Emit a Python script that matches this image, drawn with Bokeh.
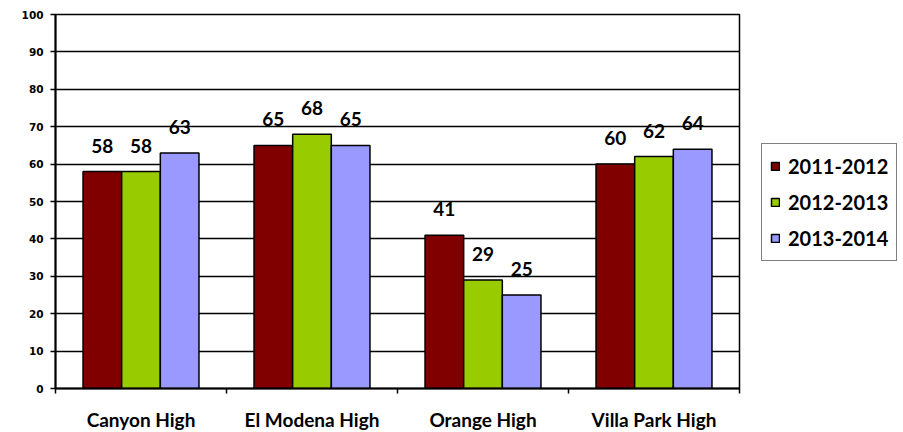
from bokeh.plotting import figure
from bokeh.models import Range1d, FixedTicker, Legend, LegendItem, ColumnDataSource
from bokeh.transform import dodge
from bokeh.core.properties import value
from bokeh.embed import file_html
from bokeh.resources import INLINE

schools = ["Canyon High", "El Modena High", "Orange High", "Villa Park High"]
years = ["2011-2012", "2012-2013", "2013-2014"]
v2011 = [58, 65, 41, 60]
v2012 = [58, 68, 29, 62]
v2013 = [63, 65, 25, 64]
colors = ["#800000", "#99CC00", "#9999FF"]
y_ticks = list(range(0, 101, 10))

centers = [i + 0.5 for i in range(len(schools))]
bounds = [float(i) for i in range(len(schools) + 1)]

src = ColumnDataSource(dict(
    x=centers,
    s0=v2011, s1=v2012, s2=v2013,
    t0=[str(v) for v in v2011], t1=[str(v) for v in v2012], t2=[str(v) for v in v2013],
))

p = figure(frame_width=684, frame_height=374, output_backend="svg", toolbar_location=None,
           x_range=Range1d(0, len(schools)), y_range=Range1d(0, 100),
           min_border_left=55, min_border_right=164, min_border_top=14, min_border_bottom=44)

bw = 0.226
offsets = [-bw, 0.0, bw]
items = []
for k in range(3):
    r = p.vbar(x=dodge("x", offsets[k], range=p.x_range), top="s%d" % k, width=bw, source=src,
               fill_color=colors[k], line_color="black", line_width=1.5)
    items.append(LegendItem(label=years[k], renderers=[r]))
    p.text(x=dodge("x", offsets[k], range=p.x_range), y="s%d" % k, text="t%d" % k, source=src,
           text_align="center", text_baseline="alphabetic", y_offset=-26,
           text_font=value("Lato"), text_font_style="bold", text_font_size="19px", text_color="black")

# grid / outline
p.xgrid.grid_line_color = None
p.ygrid.ticker = FixedTicker(ticks=y_ticks)
p.ygrid.grid_line_color = "black"
p.ygrid.grid_line_width = 1.5
p.outline_line_color = "black"
p.outline_line_width = 1.5
p.background_fill_color = "white"
p.border_fill_color = "white"

# x axis
xa = p.xaxis[0]
xa.ticker = FixedTicker(ticks=centers, minor_ticks=bounds)
xa.major_label_overrides = {c: s for c, s in zip(centers, schools)}
xa.major_tick_line_color = None
xa.minor_tick_line_color = "black"
xa.minor_tick_line_width = 1.5
xa.minor_tick_out = 5
xa.minor_tick_in = 0
xa.axis_line_width = 2
xa.axis_line_color = "black"
xa.major_label_text_font = "Lato"
xa.major_label_text_font_style = "bold"
xa.major_label_text_font_size = "19px"
xa.major_label_text_color = "black"
xa.major_label_standoff = 13

# y axis
ya = p.yaxis[0]
ya.ticker = FixedTicker(ticks=y_ticks, minor_ticks=[])
ya.major_tick_out = 5
ya.major_tick_in = 0
ya.major_tick_line_width = 1.5
ya.major_tick_line_color = "black"
ya.axis_line_width = 2
ya.axis_line_color = "black"
ya.major_label_text_font = "DejaVu Sans"
ya.major_label_text_font_style = "bold"
ya.major_label_text_font_size = "10.5px"
ya.major_label_text_color = "black"
ya.major_label_standoff = 7

legend = Legend(items=items, location=(22, 127), orientation="vertical")
legend.margin = 0
legend.padding = 8
legend.spacing = 8
legend.glyph_width = 10
legend.glyph_height = 10
legend.label_height = 28
legend.label_standoff = 8
legend.label_text_font = "Lato"
legend.label_text_font_style = "bold"
legend.label_text_font_size = "20px"
legend.label_text_color = "black"
legend.border_line_color = "black"
legend.border_line_width = 1.5
legend.background_fill_color = "white"
legend.background_fill_alpha = 1
p.add_layout(legend, "right")

open("out.html", "w").write(file_html(p, INLINE))
